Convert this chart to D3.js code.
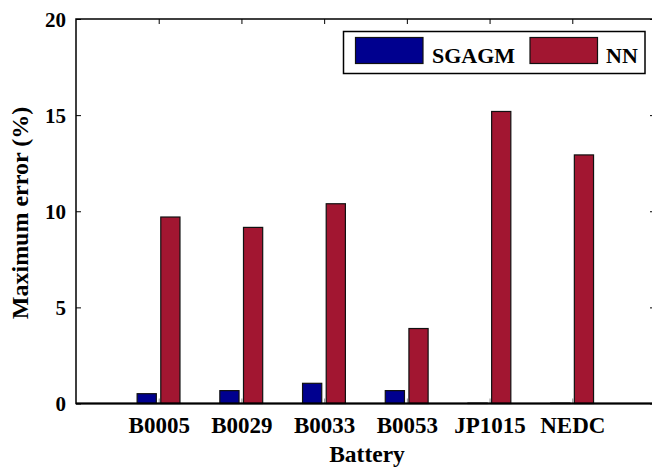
<!DOCTYPE html>
<html>
<head>
<meta charset="utf-8">
<script src="https://cdn.jsdelivr.net/npm/d3@7"></script>
<style>
html,body{margin:0;padding:0;background:#fff;}
svg{display:block;}
text{font-family:"Liberation Serif","Times New Roman",serif;font-weight:bold;fill:#000;}
</style>
</head>
<body>
<svg id="chart" width="652" height="468"></svg>
<script>
const categories = ["B0005","B0029","B0033","B0053","JP1015","NEDC"];
const sgagmValues = [0.51, 0.67, 1.05, 0.67, 0.02, 0.02];
const nnValues = [9.70, 9.16, 10.39, 3.90, 15.19, 12.93];
const seriesNames = ["SGAGM","NN"];
const seriesColors = ["#00008F","#A21631"];
const yTicks = [0,5,10,15,20];

(function () {
const svg = d3.select("#chart");
const mLeft = 76, mRight = 655, mTop = 19, mBottom = 403.5;

const x = d3.scaleLinear().domain([0, 7]).range([mLeft, mRight]);
const y = d3.scaleLinear().domain([0, 20]).range([mBottom, mTop]);

const barW = 0.232;
const offs = [-0.145, 0.141];
const series = [sgagmValues, nnValues];

// bars
series.forEach((vals, s) => {
  svg.append("g").selectAll("rect").data(vals).join("rect")
    .attr("x", (d, i) => x(i + 1 + offs[s] - barW / 2))
    .attr("width", (d, i) => x(i + 1 + offs[s] + barW / 2) - x(i + 1 + offs[s] - barW / 2))
    .attr("y", d => y(d))
    .attr("height", d => y(0) - y(d))
    .attr("fill", seriesColors[s])
    .attr("stroke", "#111")
    .attr("stroke-width", 1.2);
});

// axes
const yAxisL = d3.axisLeft(y).tickValues(yTicks).tickSize(-5).tickPadding(10).tickFormat(d3.format("d"));
const gL = svg.append("g").attr("transform", `translate(${mLeft},0)`).call(yAxisL);
gL.select(".domain").remove();
gL.selectAll("text").style("font-size", "21px").attr("dy", "0.35em");
gL.selectAll("line").attr("stroke", "#000");

const yAxisR = d3.axisRight(y).tickValues(yTicks).tickSize(-5).tickFormat("");
const gR = svg.append("g").attr("transform", `translate(${mRight},0)`).call(yAxisR);
gR.select(".domain").remove();
gR.selectAll("line").attr("stroke", "#000");

const catTicks = categories.map((c, i) => i + 1);
const xAxisB = d3.axisBottom(x).tickValues(catTicks).tickSize(-5).tickPadding(13)
  .tickFormat((d, i) => categories[i]);
const gB = svg.append("g").attr("transform", `translate(0,${mBottom})`).call(xAxisB);
gB.select(".domain").remove();
gB.selectAll("text").style("font-size", "23px");
gB.selectAll("line").attr("stroke", "#888");

const xAxisT = d3.axisTop(x).tickValues(catTicks).tickSize(-5).tickFormat("");
const gT = svg.append("g").attr("transform", `translate(0,${mTop})`).call(xAxisT);
gT.select(".domain").remove();
gT.selectAll("line").attr("stroke", "#000");

// frame
svg.append("rect").attr("x", mLeft).attr("y", mTop).attr("width", mRight - mLeft).attr("height", mBottom - mTop)
  .attr("fill", "none").attr("stroke", "#000").attr("stroke-width", 1.5);
svg.append("line").attr("x1", mLeft).attr("x2", mRight).attr("y1", mBottom).attr("y2", mBottom)
  .attr("stroke", "#000").attr("stroke-width", 2);

// axis labels
svg.append("text").attr("x", 367).attr("y", 462).attr("text-anchor", "middle")
  .style("font-size", "23.5px").text("Battery");
svg.append("text").attr("transform", "translate(28,213) rotate(-90)").attr("text-anchor", "middle")
  .style("font-size", "24px").text("Maximum error (%)");

// legend
const lg = svg.append("g");
lg.append("rect").attr("x", 343.5).attr("y", 31.5).attr("width", 301.5).attr("height", 42)
  .attr("fill", "#fff").attr("stroke", "#000").attr("stroke-width", 1.5);
const legendItems = [{sx: 355.5, tx: 432}, {sx: 530, tx: 606}];
legendItems.forEach((it, s) => {
  lg.append("rect").attr("x", it.sx).attr("y", 37.5).attr("width", 67.5).attr("height", 26)
    .attr("fill", seriesColors[s]).attr("stroke", "#111").attr("stroke-width", 1.2);
  lg.append("text").attr("x", it.tx).attr("y", 63).style("font-size", "22px").text(seriesNames[s]);
});
})();
</script>
</body>
</html>
